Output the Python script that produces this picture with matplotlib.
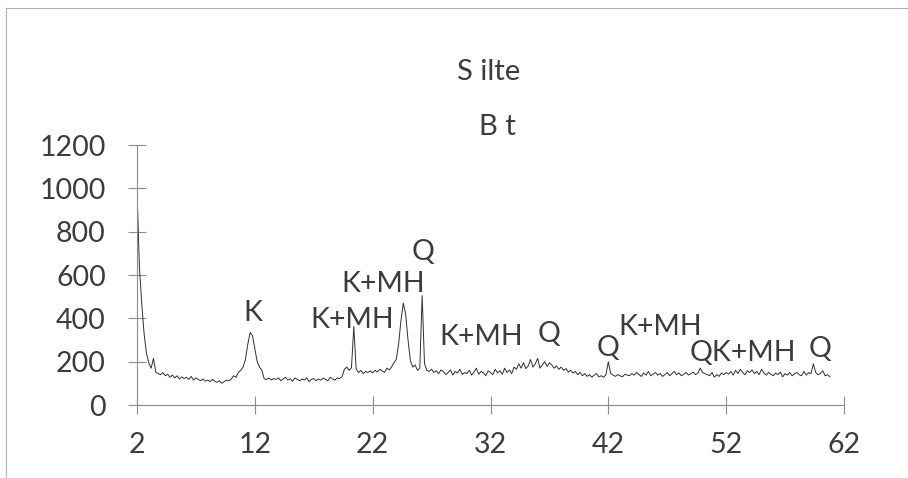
import numpy as np
import matplotlib.pyplot as plt
from matplotlib.lines import Line2D

# 2-theta from 2.0 to 60.8, step 0.2
two_theta = np.round(np.arange(2.0, 60.81, 0.2), 1)

counts = [
    1000, 640, 470, 330, 240, 195, 170, 215, 150, 145,   # 2.0 - 3.8
    140, 150, 135, 142, 128, 138, 125, 135, 120, 130,    # 4.0 - 5.8
    122, 128, 118, 132, 115, 125, 118, 112, 120, 110,    # 6.0 - 7.8
    115, 108, 118, 110, 105, 112, 100, 108, 115, 112,    # 8.0 - 9.8
    120, 135, 128, 150, 160, 175, 210, 280, 335, 320,    # 10.0 - 11.8
    260, 200, 175, 160, 120, 118, 125, 115, 122, 118,    # 12.0 - 13.8
    125, 112, 120, 128, 115, 122, 110, 125, 118, 112,    # 14.0 - 15.8
    120, 115, 125, 108, 118, 122, 112, 120, 115, 125,    # 16.0 - 17.8
    118, 112, 128, 120, 115, 125, 122, 130, 165, 175,    # 18.0 - 19.8
    160, 172, 362, 165, 150, 160, 145, 155, 150, 158,    # 20.0 - 21.8
    148, 160, 152, 165, 158, 150, 170, 162, 175, 195,    # 22.0 - 23.8
    210, 280, 390, 470, 420, 300, 205, 175, 185, 160,    # 24.0 - 25.8
    170, 505, 190, 160, 155, 165, 150, 158, 145, 162,    # 26.0 - 27.8
    155, 140, 150, 162, 138, 155, 148, 165, 140, 150,    # 28.0 - 29.8
    145, 160, 138, 152, 170, 142, 155, 148, 135, 158,    # 30.0 - 31.8
    150, 140, 165, 148, 158, 142, 170, 150, 162, 145,    # 32.0 - 33.8
    175, 165, 190, 170, 195, 168, 180, 210, 175, 190,    # 34.0 - 35.8
    215, 170, 185, 200, 178, 195, 185, 170, 180, 165,    # 36.0 - 37.8
    175, 160, 168, 152, 160, 148, 155, 140, 150, 135,    # 38.0 - 39.8
    145, 132, 140, 128, 138, 145, 130, 135, 128, 140,    # 40.0 - 41.8
    200, 145, 138, 132, 140, 135, 130, 142, 138, 135,    # 42.0 - 43.8
    145, 138, 150, 140, 132, 148, 138, 155, 135, 142,    # 44.0 - 45.8
    150, 138, 145, 132, 140, 150, 135, 145, 155, 140,    # 46.0 - 47.8
    148, 135, 142, 150, 138, 145, 152, 140, 148, 170,    # 48.0 - 49.8
    150, 145, 140, 135, 150, 128, 140, 132, 148, 140,    # 50.0 - 51.8
    150, 142, 155, 138, 160, 145, 165, 150, 140, 158,    # 52.0 - 53.8
    150, 162, 145, 155, 140, 165, 148, 138, 150, 142,    # 54.0 - 55.8
    135, 148, 140, 152, 130, 145, 138, 150, 135, 145,    # 56.0 - 57.8
    150, 140, 135, 155, 138, 150, 145, 190, 150, 140,    # 58.0 - 59.8
    145, 158, 135, 140, 130,                             # 60.0 - 60.8
]

# peak labels: text, x, y (data coords)
peak_labels = ["K", "K+MH", "K+MH", "Q", "K+MH", "Q", "Q", "K+MH", "QK+MH", "Q"]
label_x = [11.8, 20.3, 22.9, 26.3, 31.2, 37.0, 42.0, 46.4, 53.4, 60.0]
label_y = [425, 392, 558, 706, 314, 328, 263, 360, 240, 258]

x_ticks = [2, 12, 22, 32, 42, 52, 62]
y_ticks = [0, 200, 400, 600, 800, 1000, 1200]

text_col = "#3c3c3c"
axis_col = "#8c8c8c"

plt.rcParams["font.family"] = ["Lato", "DejaVu Sans"]

fig = plt.figure(figsize=(9.08, 4.78), dpi=100)
ax = fig.add_axes([137 / 908, 1 - 405 / 478, (844 - 137) / 908, (405 - 145) / 478])

ax.plot(two_theta, counts, color="#303030", linewidth=0.7)

for txt, lx, ly in zip(peak_labels, label_x, label_y):
    ax.text(lx, ly, txt, ha="center", va="center", fontsize=20.5, color=text_col)

ax.set_xlim(2, 62)
ax.set_ylim(0, 1200)
ax.set_xticks(x_ticks)
ax.set_yticks(y_ticks)
ax.tick_params(axis="both", direction="inout", length=13, width=0.8,
               color=axis_col, labelsize=20.5, labelcolor=text_col)
ax.tick_params(axis="y", pad=16)
ax.tick_params(axis="x", pad=13)

for s in ["top", "right"]:
    ax.spines[s].set_visible(False)
for s in ["left", "bottom"]:
    ax.spines[s].set_color(axis_col)
    ax.spines[s].set_linewidth(0.8)

fig.text(489 / 908, 1 - 72 / 478, "S ilte", ha="center", va="center", fontsize=21, color=text_col)
fig.text(497 / 908, 1 - 127 / 478, "B t", ha="center", va="center", fontsize=21, color=text_col)

# scanned page frame
fig.add_artist(Line2D([6 / 908, 1], [1 - 8 / 478, 1 - 8 / 478], color="#b0b0b0", linewidth=0.8))
fig.add_artist(Line2D([6 / 908, 6 / 908], [0, 1 - 8 / 478], color="#b0b0b0", linewidth=0.8))

fig.savefig("out.png", dpi=100)
